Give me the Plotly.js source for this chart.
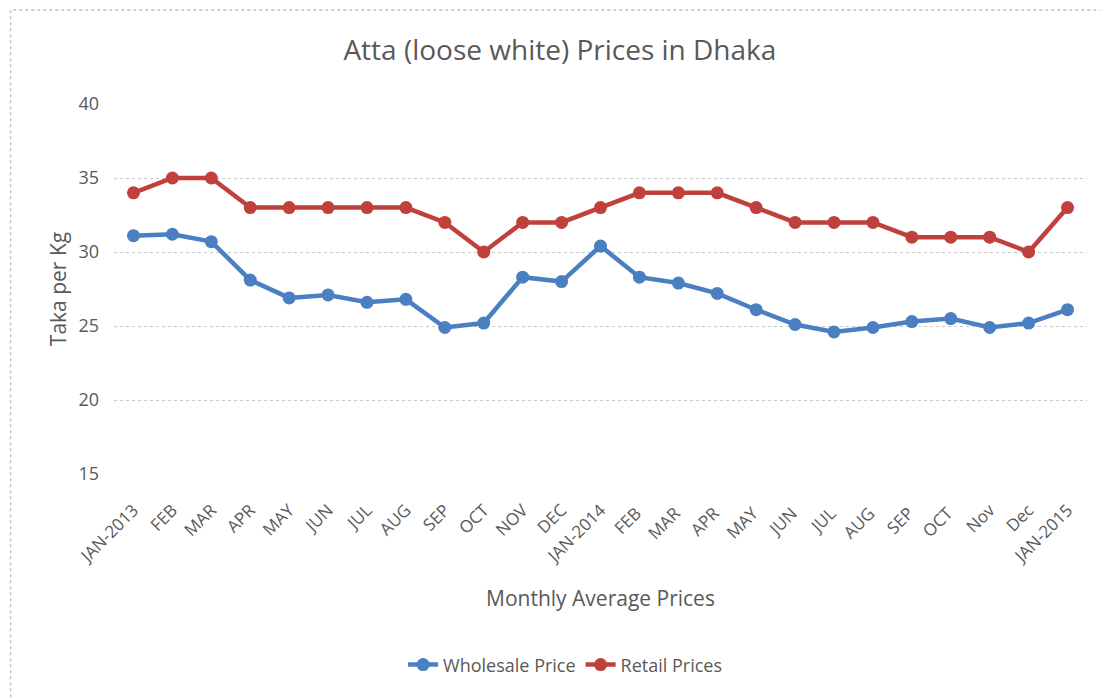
<!DOCTYPE html>
<html>
<head>
<meta charset="utf-8">
<script src="https://cdn.plot.ly/plotly-3.0.1.min.js"></script>
<style>
  html, body { margin: 0; padding: 0; background: #ffffff; }
  #chart { width: 1100px; height: 698px; }
</style>
</head>
<body>
<div id="chart"></div>
<script>
const months = ["JAN-2013","FEB","MAR","APR","MAY","JUN","JUL","AUG","SEP","OCT","NOV","DEC",
                "JAN-2014","FEB ","MAR ","APR ","MAY ","JUN ","JUL ","AUG ","SEP ","OCT ","Nov","Dec","JAN-2015"];
const wholesale = [31.1,31.2,30.7,28.1,26.9,27.1,26.6,26.8,24.9,25.2,28.3,28.0,
                   30.4,28.3,27.9,27.2,26.1,25.1,24.6,24.9,25.3,25.5,24.9,25.2,26.1];
const retail = [34,35,35,33,33,33,33,33,32,30,32,32,
                33,34,34,34,33,32,32,32,31,31,31,30,33];

const fontFam = '"Open Sans", "Noto Sans", sans-serif';
const grey = '#595959';

const traces = [
  {
    x: months, y: wholesale, name: 'Wholesale Price', type: 'scatter', mode: 'lines+markers',
    line: { color: '#4a7fc1', width: 4.5 },
    marker: { color: '#4a7fc1', size: 13, symbol: 'circle' }
  },
  {
    x: months, y: retail, name: 'Retail Prices', type: 'scatter', mode: 'lines+markers',
    line: { color: '#c0403c', width: 4.5 },
    marker: { color: '#c0403c', size: 13, symbol: 'circle' }
  }
];

const layout = {
  width: 1100, height: 698,
  margin: { l: 113.5, r: 12.5, t: 104, b: 224 },
  paper_bgcolor: '#ffffff', plot_bgcolor: '#ffffff',
  font: { family: fontFam, color: grey, size: 17 },
  title: { text: 'Atta (loose white) Prices in Dhaka', font: { size: 28, color: grey, family: fontFam },
           x: 0.509, xanchor: 'center', y: 0.928, yanchor: 'middle' },
  showlegend: true,
  legend: { orientation: 'h', x: 0.4636, xanchor: 'center', y: -0.516, yanchor: 'middle',
            font: { size: 18, color: grey }, tracegroupgap: 0 },
  xaxis: {
    type: 'category', range: [-0.5, 24.5], tickangle: -45,
    showgrid: false, zeroline: false, showline: false, ticks: '',
    ticklabelstandoff: 22,
    tickfont: { size: 17, color: grey },
    title: { text: 'Monthly Average Prices', font: { size: 21, color: grey }, standoff: 24 }
  },
  yaxis: {
    range: [15, 40], dtick: 5, tick0: 15,
    showgrid: true, gridcolor: '#c8c8c8', griddash: 'dot', gridwidth: 1,
    zeroline: false, showline: false, ticks: '', ticklabelstandoff: 14,
    tickfont: { size: 18, color: grey },
    title: { text: 'Taka per Kg', font: { size: 21, color: grey }, standoff: 6 }
  },
  shapes: [
    { type: 'rect', xref: 'paper', yref: 'paper',
      x0: -0.1063, x1: 1.023, y0: -0.638, y1: 1.254,
      line: { color: '#bfbfbf', width: 1.5, dash: 'dot' }, fillcolor: 'rgba(0,0,0,0)', layer: 'below' }
  ]
};

Plotly.newPlot('chart', traces, layout, { displayModeBar: false, staticPlot: true });
</script>
</body>
</html>
